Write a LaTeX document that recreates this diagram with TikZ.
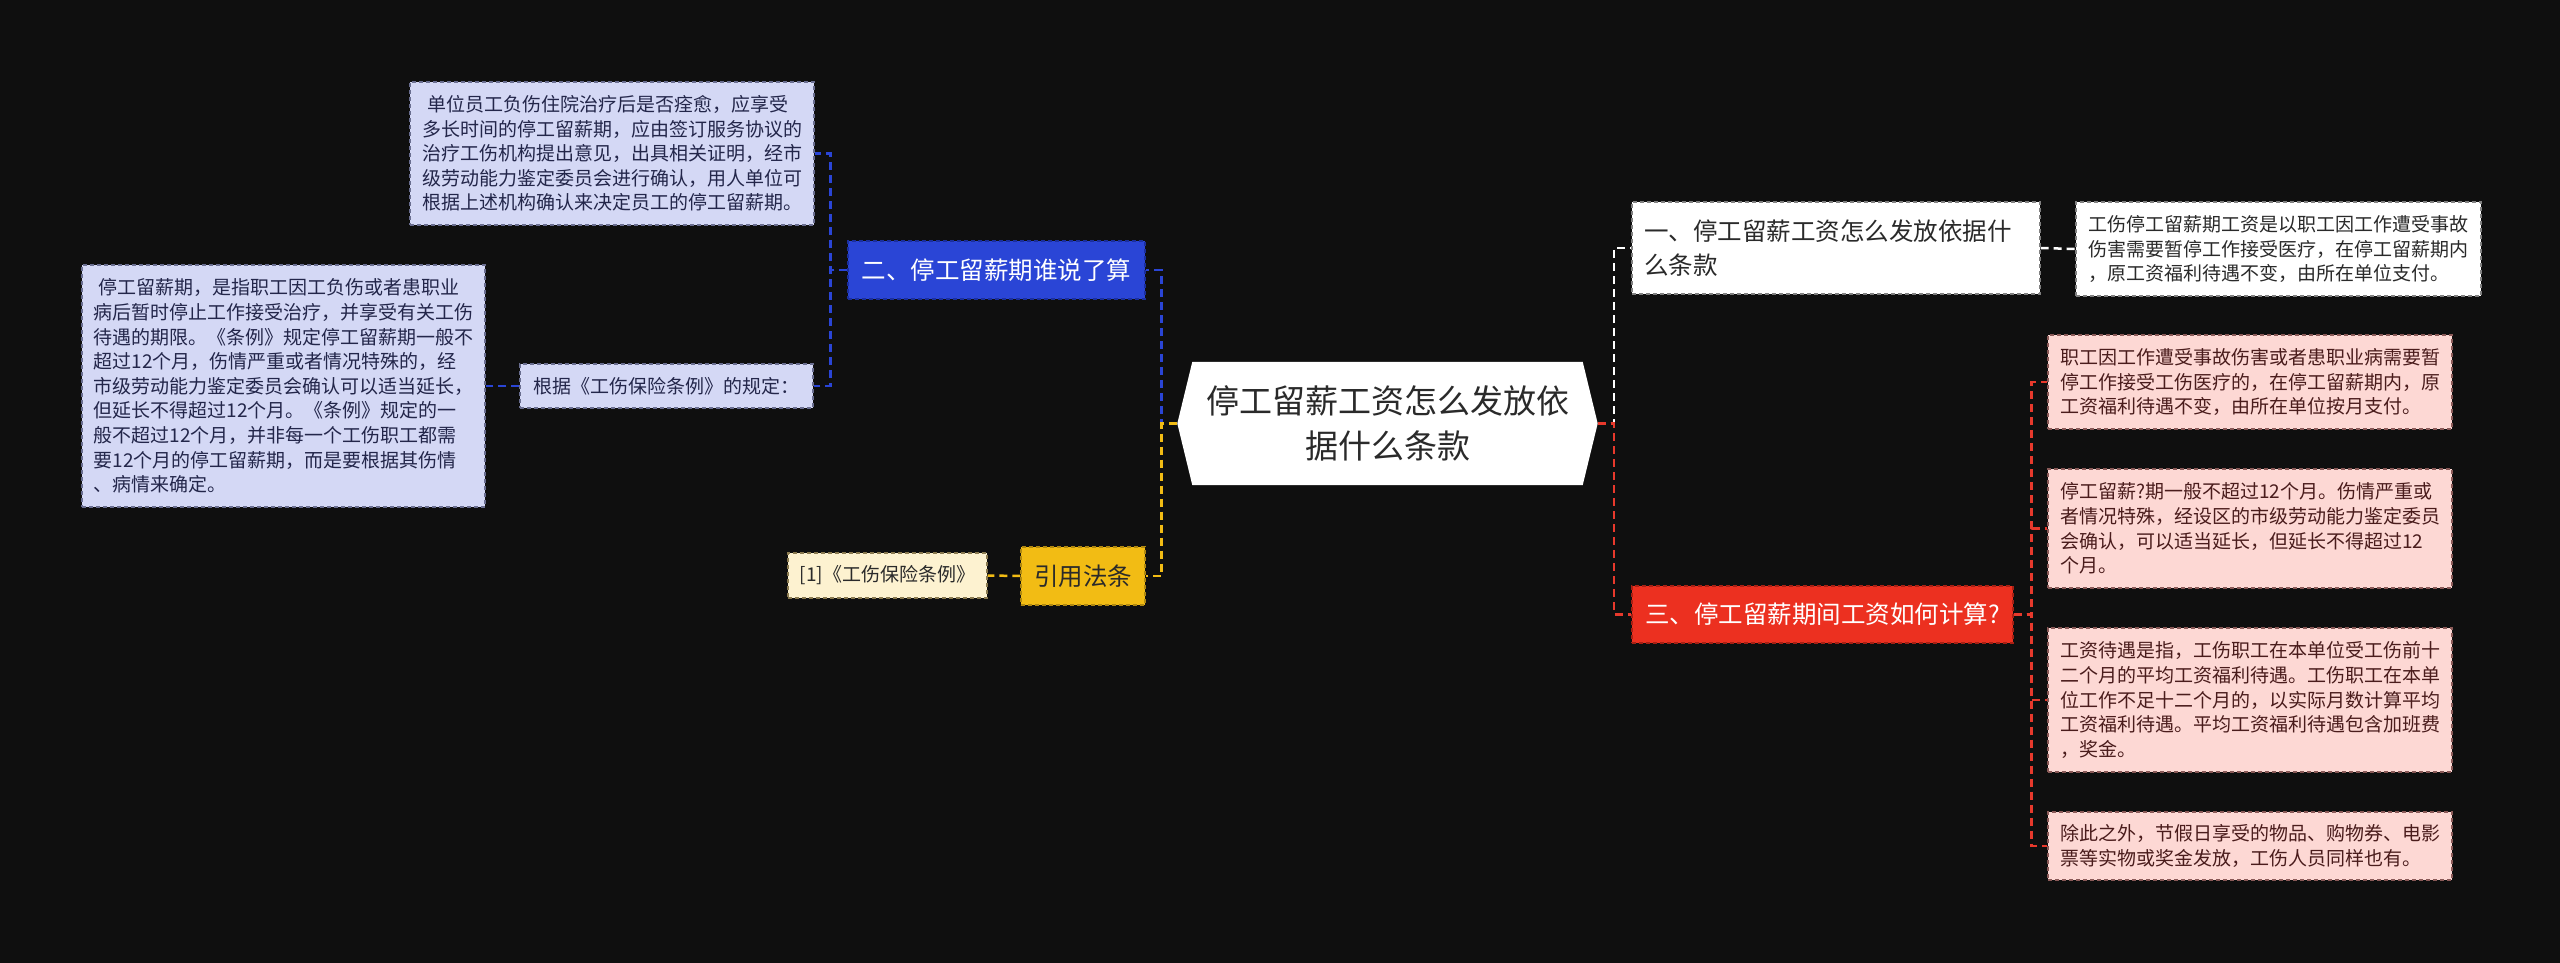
\documentclass[tikz,border=0pt]{standalone}
\usepackage{fontspec}
\setmainfont{Noto Sans CJK SC}
\usetikzlibrary{calc,backgrounds}
\definecolor{bg}{HTML}{0F0F0F}
\definecolor{lav}{HTML}{D4D8F5}
\definecolor{lavd}{HTML}{6A6E90}
\definecolor{lavt}{HTML}{23264A}
\definecolor{cream}{HTML}{FDF2D0}
\definecolor{creamd}{HTML}{8A7A50}
\definecolor{pink}{HTML}{FDD8D4}
\definecolor{pinkd}{HTML}{8A5A58}
\definecolor{pinkt}{HTML}{4A1C1C}
\definecolor{blu}{HTML}{2A45D6}
\definecolor{blud}{HTML}{1B2F9E}
\definecolor{yel}{HTML}{F2BC14}
\definecolor{yeld}{HTML}{B08810}
\definecolor{redn}{HTML}{EC3020}
\definecolor{redd}{HTML}{A82014}
\definecolor{redc}{HTML}{E8392C}
\definecolor{dark}{HTML}{2A2A2A}
\newcommand\myfs[2]{\fontsize{#1pt}{#2pt}\selectfont}
\begin{document}
\begin{tikzpicture}[x=1pt,y=-1pt,
  box/.style={rectangle, inner sep=0pt, dash pattern=on 4pt off 3pt, line width=1.2pt},
  lavbox/.style={box, fill=lav, draw=lavd, text=lavt, font=\myfs{19}{24.6}, align=left},
  pinkbox/.style={box, fill=pink, draw=pinkd, text=pinkt, font=\myfs{19}{24.6}, align=left, minimum width=404pt, text width=380pt},
  creambox/.style={box, fill=cream, draw=creamd, text=dark, font=\myfs{19}{24.6}},
  whitebox/.style={box, fill=white, draw=gray, text=dark, align=left},
  topic/.style={box, font=\myfs{24.5}{34}},
  conn/.style={line width=2.5pt, dash pattern=on 8pt off 5pt}]
\useasboundingbox (0,0) rectangle (2560,963);

% center
\node[align=center, font=\myfs{33}{45}, text=dark, minimum width=390pt, minimum height=123pt, inner sep=0pt] (c) at (1387.5,423.5) {停工留薪工资怎么发放依\\据什么条款};
\coordinate (cw) at ($(c.west)+(-15,0)$);
\coordinate (ce) at ($(c.east)+(15,0)$);

% left branch
\node[topic, fill=blu, draw=blud, text=white, minimum width=297pt, minimum height=58pt] (B) at (996.5,270) {二、停工留薪期谁说了算};
\node[topic, fill=yel, draw=yeld, text=dark, minimum width=124pt, minimum height=58pt] (Y) at (1083,576) {引用法条};
\node[creambox, minimum width=199pt, minimum height=45pt] (R1) at (887.5,575.5) {[1]《工伤保险条例》};
\node[lavbox, minimum width=404pt, minimum height=143pt, text width=380pt] (L1) at (612,153.5) {\hspace*{5pt}单位员工负伤住院治疗后是否痊愈，应享受\\多长时间的停工留薪期，应由签订服务协议的\\治疗工伤机构提出意见，出具相关证明，经市\\级劳动能力鉴定委员会进行确认，用人单位可\\根据上述机构确认来决定员工的停工留薪期。};
\node[lavbox, minimum width=293pt, minimum height=44pt] (G) at (666.5,386) {根据《工伤保险条例》的规定：};
\node[lavbox, minimum width=403pt, minimum height=242pt, text width=380pt] (L2) at (283.5,386) {\hspace*{5pt}停工留薪期，是指职工因工负伤或者患职业\\病后暂时停止工作接受治疗，并享受有关工伤\\待遇的期限。《条例》规定停工留薪期一般不\\超过12个月，伤情严重或者情况特殊的，经\\市级劳动能力鉴定委员会确认可以适当延长，\\但延长不得超过12个月。《条例》规定的一\\般不超过12个月，并非每一个工伤职工都需\\要12个月的停工留薪期，而是要根据其伤情\\、病情来确定。};

% right branch
\node[whitebox, topic, minimum width=408pt, minimum height=92pt, text width=384pt, align=left] (W) at (1836,248) {一、停工留薪工资怎么发放依据什\\么条款};
\node[whitebox, font=\myfs{19}{24.6}, minimum width=405pt, minimum height=94pt, text width=381pt] (WR) at (2278.5,249) {工伤停工留薪期工资是以职工因工作遭受事故\\伤害需要暂停工作接受医疗，在停工留薪期内\\，原工资福利待遇不变，由所在单位支付。};
\node[topic, fill=redn, draw=redd, text=white, minimum width=381pt, minimum height=57pt] (RN) at (1822.5,614.5) {三、停工留薪期间工资如何计算?};
\node[pinkbox, minimum height=94pt] (P1) at (2250,382) {职工因工作遭受事故伤害或者患职业病需要暂\\停工作接受工伤医疗的，在停工留薪期内，原\\工资福利待遇不变，由所在单位按月支付。};
\node[pinkbox, minimum height=119pt] (P2) at (2250,528.5) {停工留薪?期一般不超过12个月。伤情严重或\\者情况特殊，经设区的市级劳动能力鉴定委员\\会确认，可以适当延长，但延长不得超过12\\个月。};
\node[pinkbox, minimum height=144pt] (P3) at (2250,700) {工资待遇是指，工伤职工在本单位受工伤前十\\二个月的平均工资福利待遇。工伤职工在本单\\位工作不足十二个月的，以实际月数计算平均\\工资福利待遇。平均工资福利待遇包含加班费\\，奖金。};
\node[pinkbox, minimum height=68pt] (P4) at (2250,846) {除此之外，节假日享受的物品、购物券、电影\\票等实物或奖金发放，工伤人员同样也有。};

\begin{scope}[on background layer]
\fill[bg] (0,0) rectangle (2560,963);
\fill[white] (c.north west) -- (c.north east) -- (ce) -- (c.south east) -- (c.south west) -- (cw) -- cycle;
% connectors
\draw[conn, blu] (cw) -- ++(-16,0) |- (B.east);
\draw[conn, yel] (cw) -- ++(-16,0) |- (Y.east);
\draw[conn, yel] (Y.west) -- (R1.east);
\draw[conn, blu] (B.west) -- ++(-17,0) |- (L1.east);
\draw[conn, blu] (B.west) -- ++(-17,0) |- (G.east);
\draw[conn, blu] (G.west) -- (L2.east);
\draw[conn, white] (ce) -- ++(16.5,0) |- (W.west);
\draw[conn, redc] (ce) -- ++(16.5,0) |- (RN.west);
\draw[conn, white] (W.east) -- (WR.west);
\draw[conn, redc] (RN.east) -- ++(18,0) |- (P1.west);
\draw[conn, redc] (RN.east) -- ++(18,0) |- (P2.west);
\draw[conn, redc] (RN.east) -- ++(18,0) |- (P3.west);
\draw[conn, redc] (RN.east) -- ++(18,0) |- (P4.west);
\end{scope}
\end{tikzpicture}
\end{document}
